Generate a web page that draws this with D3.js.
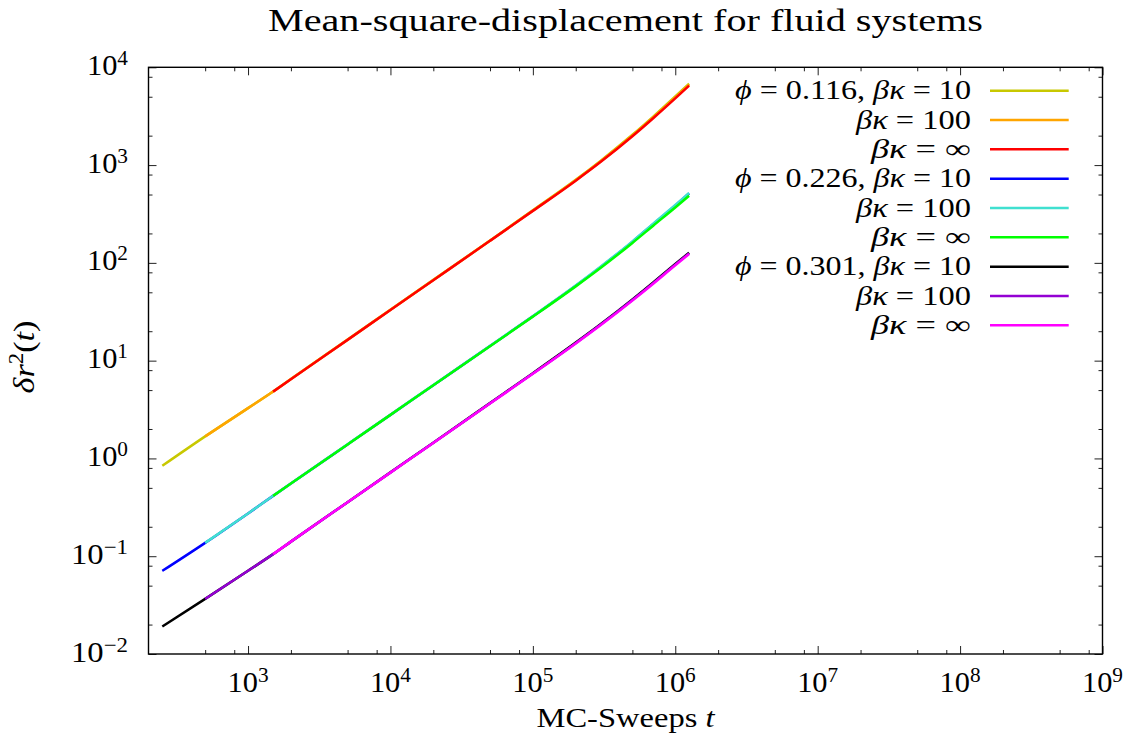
<!DOCTYPE html>
<html><head><meta charset="utf-8">
<script src="https://cdn.jsdelivr.net/npm/d3@7"></script>
<style>
body{margin:0;background:#fff}
svg{display:block}
text{font-family:"Liberation Serif","Times New Roman",serif;fill:#000}
</style>
</head><body>
<svg id="c" width="1131" height="745"></svg>
<script>
// ---- data ----
const timesK10  = [250, 500, 1000, 1500, 2000, 5000, 1e4, 2e4, 5e4, 1e5, 2e5, 3e5, 5e5, 7e5, 1e6, 1.25e6];
const timesK100 = [500, 1000, 1500, 2000, 5000, 1e4, 2e4, 5e4, 1e5, 2e5, 3e5, 5e5, 7e5, 1e6, 1.25e6];
const timesKinf = [1500, 2000, 5000, 1e4, 2e4, 5e4, 1e5, 2e5, 3e5, 5e5, 7e5, 1e6, 1.25e6];

const phi116_k10  = [0.84, 1.68, 3.27, 4.84, 6.50, 16.4, 33.2, 67.0, 169, 345, 707, 1111, 2041, 3134, 5024, 6810];
const phi116_k100 = [1.68, 3.27, 4.83, 6.48, 16.35, 33.1, 66.7, 168.5, 342, 700, 1095, 2006, 3074, 4917, 6650];
const phi116_kinf = [4.82, 6.46, 16.3, 33.0, 66.5, 168, 340, 693, 1079, 1972, 3013, 4808, 6486];

const phi226_k10  = [0.0708, 0.137, 0.274, 0.414, 0.554, 1.39, 2.79, 5.61, 14.1, 28.4, 58.2, 91.0, 164, 249, 385, 512];
const phi226_k100 = [0.137, 0.274, 0.415, 0.555, 1.395, 2.80, 5.63, 14.15, 28.5, 58.6, 91.8, 166, 252, 390, 519];
const phi226_kinf = [0.414, 0.553, 1.39, 2.79, 5.60, 14.06, 28.2, 57.5, 89.1, 160, 240, 368, 485];

const phi301_k10  = [0.0191, 0.0366, 0.0710, 0.105, 0.141, 0.357, 0.72, 1.45, 3.68, 7.45, 15.3, 23.7, 42.3, 63.0, 97.4, 127];
const phi301_k100 = [0.0366, 0.0711, 0.105, 0.141, 0.357, 0.718, 1.445, 3.66, 7.38, 15.1, 23.4, 41.7, 62.1, 96.0, 125];
const phi301_kinf = [0.105, 0.141, 0.356, 0.716, 1.44, 3.64, 7.33, 14.96, 23.1, 41.1, 61.1, 94.4, 123];

const seriesColors = ["#c8c800", "#ffa500", "#ff0000", "#0000ff", "#40e0d0", "#00ff00", "#000000", "#9400d3", "#ff00ff"];
const legendPhi = ["0.116", "", "", "0.226", "", "", "0.301", "", ""];
const legendKappa = ["10", "100", "∞", "10", "100", "∞", "10", "100", "∞"];

const xMajorExp = [3, 4, 5, 6, 7, 8, 9];
const yMajorExp = [-2, -1, 0, 1, 2, 3, 4];
const minorMult = [2, 5, 8];

const titleText = "Mean-square-displacement for fluid systems";

// ---- layout ----
const L = 148.5, R = 1102.5, T = 67.3, B = 654;
const svg = d3.select("#c");
const x = d3.scaleLog().domain([200, 1e9]).range([L, R]);
const y = d3.scaleLog().domain([1e-2, 1e4]).range([B, T]);

const series = [
  [timesK10, phi116_k10], [timesK100, phi116_k100], [timesKinf, phi116_kinf],
  [timesK10, phi226_k10], [timesK100, phi226_k100], [timesKinf, phi226_kinf],
  [timesK10, phi301_k10], [timesK100, phi301_k100], [timesKinf, phi301_kinf]
];

// ticks
function minorTicks(scale) {
  const [a, b] = scale.domain();
  const out = [];
  for (let e = Math.floor(Math.log10(a)); e <= Math.ceil(Math.log10(b)); e++) {
    minorMult.forEach(m => { const v = m * Math.pow(10, e); if (v > a * 1.001 && v < b * 0.999) out.push(v); });
  }
  return out;
}
const xMaj = xMajorExp.map(e => Math.pow(10, e));
const yMaj = yMajorExp.map(e => Math.pow(10, e));
const xMin = minorTicks(x), yMin = minorTicks(y);

function addAxis(gen, tf, vals, size) {
  const g = svg.append("g").attr("transform", tf)
    .call(gen.tickValues(vals).tickSize(size).tickFormat(""));
  g.select(".domain").remove();
  g.selectAll("line").attr("stroke", "#222").attr("stroke-width", 1);
}
addAxis(d3.axisBottom(x), `translate(0,${B})`, xMaj, -8);
addAxis(d3.axisBottom(x), `translate(0,${B})`, xMin, -4);
addAxis(d3.axisTop(x), `translate(0,${T})`, xMaj, -8);
addAxis(d3.axisTop(x), `translate(0,${T})`, xMin, -4);
addAxis(d3.axisLeft(y), `translate(${L},0)`, yMaj, -8);
addAxis(d3.axisLeft(y), `translate(${L},0)`, yMin, -4);
addAxis(d3.axisRight(y), `translate(${R},0)`, yMaj, -8);
addAxis(d3.axisRight(y), `translate(${R},0)`, yMin, -4);

// frame
svg.append("rect").attr("x", L).attr("y", T).attr("width", R - L).attr("height", B - T)
  .attr("fill", "none").attr("stroke", "#000").attr("stroke-width", 1.4);

// tick labels
function powLabel(sel, exp) {
  sel.append("tspan").text("10");
  sel.append("tspan").attr("dy", -10).attr("font-size", 21).text(exp < 0 ? "\u2212" + (-exp) : String(exp));
  sel.attr("textLength", exp < 0 ? 57 : 41).attr("lengthAdjust", "spacingAndGlyphs");
}
xMajorExp.forEach(e => {
  const t = svg.append("text").attr("x", x(Math.pow(10, e))).attr("y", 691.5)
    .attr("text-anchor", "middle").attr("font-size", 30);
  powLabel(t, e);
});
yMajorExp.forEach(e => {
  const t = svg.append("text").attr("x", 128).attr("y", y(Math.pow(10, e)) + 7.5)
    .attr("text-anchor", "end").attr("font-size", 30);
  powLabel(t, e);
});

// clip
svg.append("clipPath").attr("id", "clip").append("rect")
  .attr("x", L).attr("y", T).attr("width", R - L).attr("height", B - T);

const line = d3.line().x(d => x(d[0])).y(d => y(d[1])).curve(d3.curveMonotoneX);
const plotG = svg.append("g").attr("clip-path", "url(#clip)");
series.forEach((s, i) => {
  const pts = s[0].map((t, k) => [t, s[1][k]]);
  plotG.append("path").attr("d", line(pts)).attr("fill", "none")
    .attr("stroke", seriesColors[i]).attr("stroke-width", 2.5).attr("stroke-linejoin", "round");
});

// legend
const legX = 971, lineX0 = 990, lineX1 = 1068.7, row0 = 90.7, rowH = 29.33, legFs = 27;
seriesColors.forEach((c, i) => {
  const yy = row0 + i * rowH;
  const t = svg.append("text").attr("x", legX).attr("y", yy + legFs * 0.32)
    .attr("text-anchor", "end").attr("font-size", legFs);
  if (legendPhi[i]) {
    t.append("tspan").attr("font-style", "italic").text("\u03D5");
    t.append("tspan").text(" = " + legendPhi[i] + ", ");
  }
  t.append("tspan").attr("font-style", "italic").text("βκ");
  t.append("tspan").text(" = " + legendKappa[i]);
  const w = legendPhi[i] ? 236 : (legendKappa[i] === "∞" ? 100 : 115);
  t.attr("textLength", w).attr("lengthAdjust", "spacingAndGlyphs");
  svg.append("line").attr("x1", lineX0).attr("x2", lineX1).attr("y1", yy).attr("y2", yy)
    .attr("stroke", c).attr("stroke-width", 2.5);
});

// title
svg.append("text").attr("x", (L + R) / 2).attr("y", 31).attr("text-anchor", "middle")
  .attr("font-size", 31).attr("textLength", 715).attr("lengthAdjust", "spacingAndGlyphs").text(titleText);

// x label
const xl = svg.append("text").attr("x", (L + R) / 2).attr("y", 727).attr("text-anchor", "middle")
  .attr("font-size", 28).attr("textLength", 178).attr("lengthAdjust", "spacingAndGlyphs");
xl.append("tspan").text("MC-Sweeps ");
xl.append("tspan").attr("font-style", "italic").text("t");

// y label
const yl = svg.append("text").attr("transform", `translate(34,357) rotate(-90)`)
  .attr("text-anchor", "middle").attr("font-size", 30)
  .attr("textLength", 73).attr("lengthAdjust", "spacingAndGlyphs");
yl.append("tspan").attr("font-style", "italic").text("δr");
yl.append("tspan").attr("dy", -11).attr("font-size", 20).text("2");
yl.append("tspan").attr("dy", 11).text("(");
yl.append("tspan").attr("font-style", "italic").text("t");
yl.append("tspan").text(")");
</script>
</body></html>
